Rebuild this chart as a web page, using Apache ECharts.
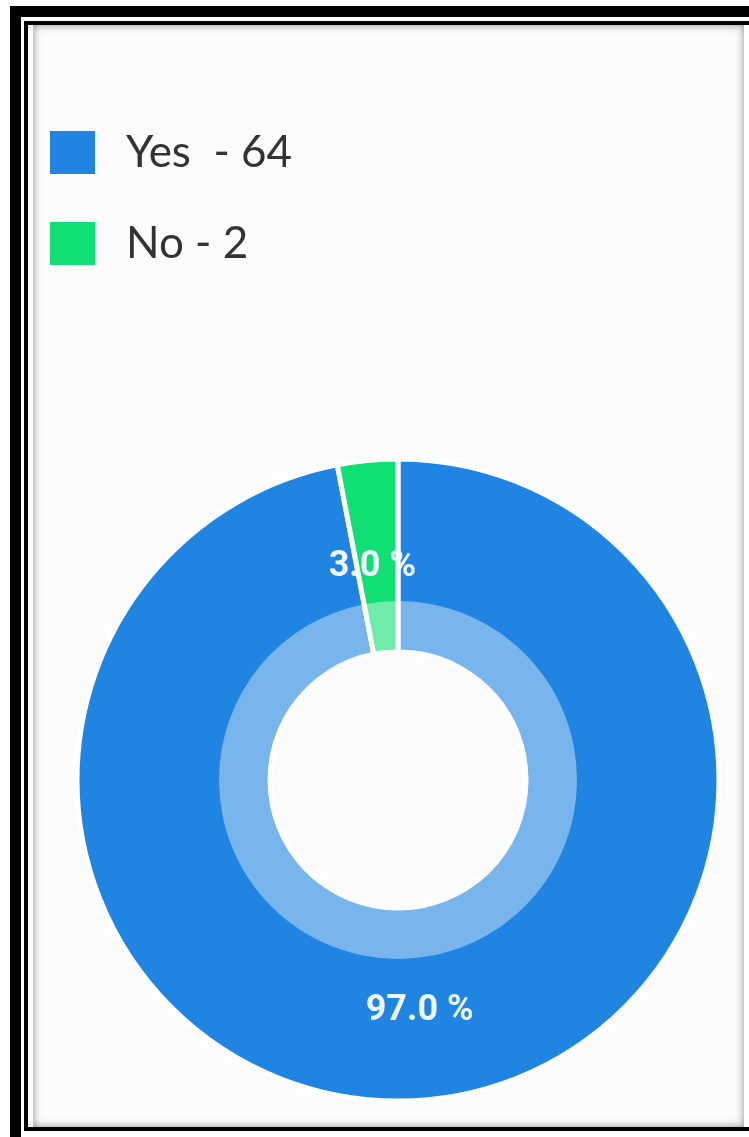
<!DOCTYPE html>
<html>
<head>
<meta charset="utf-8">
<script src="https://cdn.jsdelivr.net/npm/echarts@6/dist/echarts.min.js"></script>
<style>
  html, body { margin: 0; padding: 0; width: 749px; height: 1137px; overflow: hidden; background: #fff; }
  .frame-outer { position: absolute; left: 10px; top: 6px; width: 760px; height: 1160px; box-sizing: border-box; border: 11px solid #000; background: #fff; }
  .frame-inner { position: absolute; left: 24px; top: 21px; width: 730px; height: 1110px; box-sizing: border-box; border: 4px solid #000; background: #fff; }
  .panel { position: absolute; left: 33px; top: 25px; width: 711px; height: 1102px; background: #fcfcfc; box-shadow: inset 0 0 9px rgba(0,0,0,0.45); }
  #chart { position: absolute; left: 0; top: 0; width: 749px; height: 1137px; }
</style>
</head>
<body>
<div class="frame-outer"></div>
<div class="frame-inner"></div>
<div class="panel"></div>
<div id="chart"></div>
<script>
// Survey answers
const categories = ['Yes', 'No'];
const counts = [64, 2];
const legendSpacing = ['  - ', ' - '];
const sliceColors = ['#1f84e2', '#10e073'];

const total = counts.reduce((a, b) => a + b, 0);
const pieData = categories.map((name, i) => ({
  name,
  value: counts[i],
  itemStyle: { color: sliceColors[i] },
  label: { offset: i === 0 ? [0, 5] : [-4, 13] }
}));

const chart = echarts.init(document.getElementById('chart'), null, { renderer: 'canvas' });
chart.setOption({
  animation: false,
  legend: {
    orient: 'vertical',
    left: 48,
    top: 129,
    padding: 0,
    data: categories,
    icon: 'rect',
    itemWidth: 47,
    itemHeight: 45,
    itemGap: 44,
    selectedMode: false,
    formatter: name => {
      const i = categories.indexOf(name);
      return name + legendSpacing[i] + counts[i];
    },
    textStyle: {
      fontFamily: 'Lato',
      fontSize: 44,
      lineHeight: 45,
      color: '#333333',
      padding: [0, 0, 0, 25]
    }
  },
  series: [
    {
      type: 'pie',
      center: [398, 780],
      radius: [128, 321],
      startAngle: 90,
      clockwise: true,
      silent: true,
      avoidLabelOverlap: false,
      itemStyle: { borderColor: '#ffffff', borderWidth: 5 },
      label: {
        show: true,
        position: 'inside',
        fontFamily: 'Roboto',
        fontWeight: 'bold',
        fontSize: 36,
        color: '#eef7ff',
        formatter: p => (p.value / total * 100).toFixed(1) + ' %'
      },
      labelLine: { show: false },
      emphasis: { disabled: true },
      data: pieData
    },
    {
      // paler inner band of the ring
      type: 'pie',
      center: [398, 780],
      radius: [128, 179],
      startAngle: 90,
      clockwise: true,
      silent: true,
      z: 3,
      label: { show: false },
      labelLine: { show: false },
      emphasis: { disabled: true },
      itemStyle: { color: 'rgba(255,255,255,0.4)', borderWidth: 0 },
      data: categories.map((name, i) => ({ name, value: counts[i] }))
    }
  ]
});
</script>
</body>
</html>
